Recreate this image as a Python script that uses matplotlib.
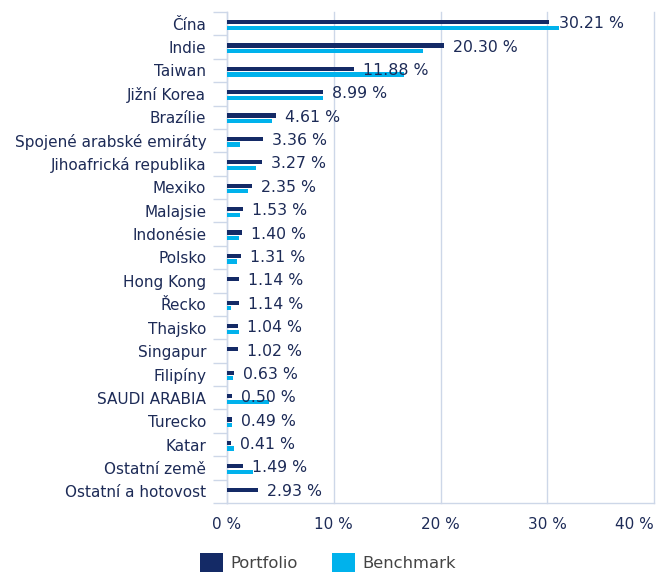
import numpy as np
import matplotlib.pyplot as plt
from matplotlib.patches import Patch

# Country allocation (%)
COUNTRIES = [
    "Čína", "Indie", "Taiwan", "Jižní Korea", "Brazílie",
    "Spojené arabské emiráty", "Jihoafrická republika", "Mexiko",
    "Malajsie", "Indonésie", "Polsko", "Hong Kong", "Řecko", "Thajsko",
    "Singapur", "Filipíny", "SAUDI ARABIA", "Turecko", "Katar",
    "Ostatní země", "Ostatní a hotovost",
]
PORTFOLIO = [30.21, 20.30, 11.88, 8.99, 4.61, 3.36, 3.27, 2.35, 1.53, 1.40,
             1.31, 1.14, 1.14, 1.04, 1.02, 0.63, 0.50, 0.49, 0.41, 1.49, 2.93]
BENCHMARK = [31.1, 18.4, 16.6, 9.0, 4.2, 1.25, 2.7, 1.95, 1.25, 1.1,
             0.95, 0.0, 0.4, 1.1, 0.0, 0.55, 3.9, 0.5, 0.7, 2.45, 0.0]
X_TICKS = [0, 10, 20, 30, 40]

NAVY = "#142a66"
CYAN = "#00b2ec"
GRID = "#cdd7e8"
TEXT = "#1d2b57"
FS = 11

fig = plt.figure(figsize=(6.66, 5.72), dpi=100)
ax = fig.add_axes([227 / 666, 69 / 572, 427 / 666, 491 / 572])

n = len(COUNTRIES)
y = np.arange(n)
h = 0.18
ax.barh(y - 0.07, PORTFOLIO, height=h, color=NAVY, zorder=3)
ax.barh(y + 0.17, BENCHMARK, height=h, color=CYAN, zorder=3)

# value labels follow the portfolio bar
for yi, v in zip(y, PORTFOLIO):
    ax.annotate(f"{v:.2f} %", xy=(v, yi), xytext=(6.5, 0), textcoords="offset points",
                va="center", ha="left", fontsize=FS + 0.3, color=TEXT, zorder=4)

ax.set_ylim(n - 0.5, -0.5)
ax.set_xlim(0, 40)

ax.set_yticks(y)
ax.set_yticklabels(COUNTRIES, fontsize=FS, color=TEXT)
ax.set_yticks(np.arange(n + 1) - 0.5, minor=True)
ax.tick_params(axis="y", which="major", length=0, pad=15)
ax.tick_params(axis="y", which="minor", length=10, width=1, color=GRID)

ax.set_xticks(X_TICKS)
ax.set_xticklabels([f"{t} %" for t in X_TICKS], fontsize=FS, color=TEXT)
ax.tick_params(axis="x", length=0, pad=10)
ax.get_xticklabels()[-1].set_horizontalalignment("right")
for xg in X_TICKS:
    ax.axvline(xg, color=GRID, linewidth=1, zorder=0, clip_on=False)

for side in ["top", "right"]:
    ax.spines[side].set_visible(False)
for side in ["left", "bottom"]:
    ax.spines[side].set_color(GRID)
    ax.spines[side].set_linewidth(1)

handles = [Patch(facecolor=NAVY, label="Portfolio"),
           Patch(facecolor=CYAN, label="Benchmark")]
fig.legend(handles=handles, loc="center left", bbox_to_anchor=(0.300, 0.017),
           ncol=2, frameon=False, fontsize=11.8, labelcolor="#444444",
           handlelength=1.4, handleheight=1.4, handletextpad=0.45,
           columnspacing=2.1, borderpad=0, borderaxespad=0)

fig.savefig("out.png", dpi=100)
